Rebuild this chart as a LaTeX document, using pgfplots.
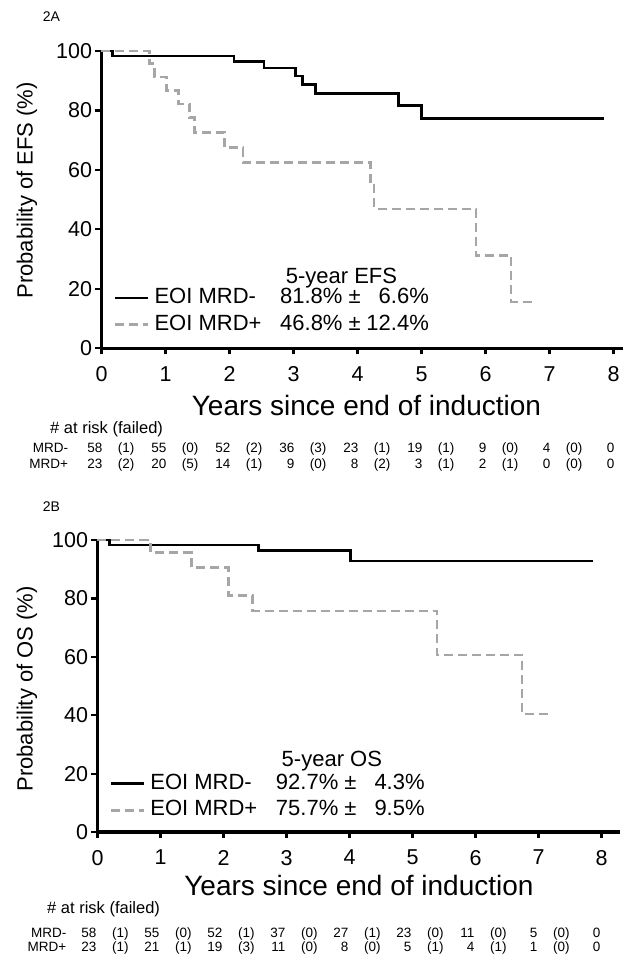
\documentclass[border=0pt]{standalone}
\usepackage{fontspec}
\setmainfont{Liberation Sans}
\usepackage{pgfplots}
\pgfplotsset{compat=1.18}
\definecolor{kmgray}{RGB}{166,166,166}
\newcommand{\fs}[1]{\fontsize{#1}{#1}\selectfont}

\pgfplotsset{
  kmaxis/.style={
    axis lines=left,
    axis line style={line width=3.1pt,-,black},
    xmin=0, ymin=0, ymax=100,
    xtick={0,...,8}, ytick={0,20,...,100},
    tick align=outside,
    major tick length=6pt,
    tick style={line width=2.2pt, black},
    /pgf/number format/assume math mode=true,
    ticklabel style={font=\fs{21.5}},
    xticklabel style={anchor=north, inner sep=0pt, yshift=-12pt},
    clip=false,
    legend cell align=left,
    legend image code/.code={\draw[##1] (0pt,0pt) -- (33pt,0pt);},
    legend style={draw=none, fill=none, inner sep=0pt, font=\fs{22},
      row sep=4pt, nodes={inner sep=1pt, text height=16pt, text depth=4.5pt},
      /tikz/every odd column/.append style={column sep=4pt}},
  },
  neg/.style={black, line width=2.7pt, const plot},
  pos/.style={kmgray, line width=2.7pt, const plot, dash pattern=on 9pt off 5pt},
}

\begin{document}
\begin{tikzpicture}
\useasboundingbox (-101.5pt,-609.7pt) rectangle (522.5pt,348.3pt);

% ---------------- 2A : EFS ----------------
\begin{axis}[kmaxis,
  x=64pt, y=2.973pt, xmax=8.15,
  xlabel={Years since end of induction},
  xlabel style={font=\fs{28}, at={(axis description cs:0.508,0)}, anchor=base, yshift=-67pt},
  ylabel={Probability of EFS (\%)},
  ylabel style={font=\fs{22}, at={(axis description cs:-0.143,0.531)}, anchor=center},
  legend style={at={(axis cs:0.19,12.5)}, anchor=west},
]
\addplot[neg] coordinates {(0,100)(0.17,98.3)(2.07,96.4)(2.54,94.3)(3.03,91.6)(3.14,88.7)(3.34,85.6)(4.64,81.6)(5.0,77.4)(7.85,77.4)};
\addlegendentry{\makebox[126pt][l]{EOI MRD-}\makebox[62pt][r]{81.8\%} ± \makebox[62pt][r]{6.6\%}}
\addplot[pos] coordinates {(0,100)(0.75,95.7)(0.83,91.3)(1.02,86.7)(1.2,82.2)(1.37,77.6)(1.45,72.6)(1.92,67.5)(2.21,62.5)(4.2,54.7)(4.26,46.9)(5.85,31.3)(6.4,15.6)(6.78,15.6)};
\addlegendentry{\makebox[126pt][l]{EOI MRD+}\makebox[62pt][r]{46.8\%} ± \makebox[62pt][r]{12.4\%}}
\node[font=\fs{22}] at (axis cs:3.75,23.6) {5-year EFS};
\end{axis}

% ---------------- 2B : OS ----------------
\begin{axis}[kmaxis,
  at={(-4pt,-483.7pt)}, anchor=south west,
  x=63pt, y=2.92pt, xmax=8.3,
  xlabel={Years since end of induction},
  xlabel style={font=\fs{28}, at={(axis description cs:0.5,0)}, anchor=base, yshift=-63pt},
  ylabel={Probability of OS (\%)},
  ylabel style={font=\fs{22}, at={(axis description cs:-0.135,0.49)}, anchor=center},
  legend style={at={(axis cs:0.19,12.0)}, anchor=west},
]
\addplot[neg] coordinates {(0,100)(0.19,98.3)(2.56,96.4)(4.02,92.8)(7.86,92.8)};
\addlegendentry{\makebox[126pt][l]{EOI MRD-}\makebox[62pt][r]{92.7\%} ± \makebox[62pt][r]{4.3\%}}
\addplot[pos] coordinates {(0,100)(0.84,95.7)(1.49,90.7)(2.08,81.1)(2.46,75.7)(5.39,60.6)(6.74,40.4)(7.2,40.4)};
\addlegendentry{\makebox[126pt][l]{EOI MRD+}\makebox[62pt][r]{75.7\%} ± \makebox[62pt][r]{9.5\%}}
\node[font=\fs{22}] at (axis cs:3.72,24.4) {5-year OS};
\end{axis}

% panel labels
\node[anchor=base west, font=\fs{14}, inner sep=0pt] at (-58.8pt,326.6pt) {2A};
\node[anchor=base west, font=\fs{14}, inner sep=0pt] at (-58.8pt,-163.4pt) {2B};

% ---------------- risk table A ----------------
\node[anchor=base west, font=\fs{16.5}, inner sep=0pt] at (-51.5pt,-85.3pt) {\# at risk (failed)};
\node[anchor=base east, font=\fs{13.5}, inner sep=0pt] at (-33.2pt,-104.2pt) {MRD-};
\node[anchor=base east, font=\fs{13.5}, inner sep=0pt] at (-33.2pt,-119.9pt) {MRD+};
\foreach \n [count=\i from 0] in {58,55,52,36,23,19,9,4,0}
  \node[anchor=base east, font=\fs{13.5}, inner sep=0pt] at ({\i*64pt+1pt},-104.2pt) {\n};
\foreach \n [count=\i from 0] in {23,20,14,9,8,3,2,0,0}
  \node[anchor=base east, font=\fs{13.5}, inner sep=0pt] at ({\i*64pt+1pt},-119.9pt) {\n};
\foreach \n [count=\i from 0] in {1,0,2,3,1,1,0,0}
  \node[anchor=base, font=\fs{13.5}, inner sep=0pt] at ({(\i+0.385)*64pt},-104.2pt) {(\n)};
\foreach \n [count=\i from 0] in {2,5,1,0,2,1,1,0}
  \node[anchor=base, font=\fs{13.5}, inner sep=0pt] at ({(\i+0.385)*64pt},-119.9pt) {(\n)};

% ---------------- risk table B ----------------
\node[anchor=base west, font=\fs{16.5}, inner sep=0pt] at (-54.5pt,-565.3pt) {\# at risk (failed)};
\node[anchor=base east, font=\fs{13.5}, inner sep=0pt] at (-35pt,-589.2pt) {MRD-};
\node[anchor=base east, font=\fs{13.5}, inner sep=0pt] at (-35pt,-603.2pt) {MRD+};
\foreach \n [count=\i from 0] in {58,55,52,37,27,23,11,5,0}
  \node[anchor=base east, font=\fs{13.5}, inner sep=0pt] at ({\i*63pt-5pt},-589.2pt) {\n};
\foreach \n [count=\i from 0] in {23,21,19,11,8,5,4,1,0}
  \node[anchor=base east, font=\fs{13.5}, inner sep=0pt] at ({\i*63pt-5pt},-603.2pt) {\n};
\foreach \n [count=\i from 0] in {1,0,1,0,1,0,0,0}
  \node[anchor=base, font=\fs{13.5}, inner sep=0pt] at ({(\i+0.33)*63pt-2pt},-589.2pt) {(\n)};
\foreach \n [count=\i from 0] in {1,1,3,0,0,1,1,0}
  \node[anchor=base, font=\fs{13.5}, inner sep=0pt] at ({(\i+0.33)*63pt-2pt},-603.2pt) {(\n)};
\end{tikzpicture}
\end{document}
